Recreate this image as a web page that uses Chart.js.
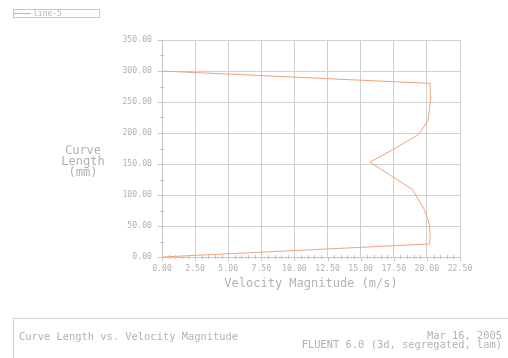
<!DOCTYPE html>
<html>
<head>
<meta charset="utf-8">
<script src="https://cdn.jsdelivr.net/npm/chart.js@4/dist/chart.umd.min.js"></script>
<style>
  html, body { margin: 0; padding: 0; background: #ffffff; }
  #wrap { width: 508px; height: 358px; position: relative; }
</style>
</head>
<body>
<div id="wrap"><canvas id="c" width="508" height="358"></canvas></div>
<script>
// Velocity profile along line-5
const seriesName = 'line-5';
const velocity = [0, 20.2, 20.25, 20.2, 19.8, 18.9, 15.7, 17.5, 19.4, 20.1, 20.3, 20.25, 0];
const curveLength = [0, 21, 36, 52, 77, 109, 153, 174, 198, 221, 258, 280, 300];

const xTicks = [0, 2.5, 5, 7.5, 10, 12.5, 15, 17.5, 20, 22.5];
const yTicks = [0, 50, 100, 150, 200, 250, 300, 350];

const xTitle = 'Velocity Magnitude (m/s)';
const yTitleLines = ['Curve', 'Length', '(mm)'];
const plotTitle = 'Curve Length vs. Velocity Magnitude';
const dateText = 'Mar 16, 2005';
const solverText = 'FLUENT 6.0 (3d, segregated, lam)';

const TEXT = '#b2b2b2';
const GRID = '#cfcfcf';
const LINE = '#f0a478';
const MONO = '"DejaVu Sans Mono", "Liberation Mono", monospace';

const points = velocity.map((v, i) => ({ x: v, y: curveLength[i] }));

// Decorations: legend box, axis titles, minor ticks and the caption box
const decor = {
  id: 'decor',
  afterDraw(chart) {
    const ctx = chart.ctx;
    const xs = chart.scales.x, ys = chart.scales.y;
    const area = chart.chartArea;
    ctx.save();

    // minor ticks on the x axis (every 0.5)
    ctx.strokeStyle = '#c4c4c4';
    ctx.lineWidth = 1;
    ctx.beginPath();
    for (let i = 0; i < xTicks.length - 1; i++) {
      for (let k = 1; k < 5; k++) {
        const v = xTicks[i] + (xTicks[i + 1] - xTicks[i]) * k / 5;
        const px = Math.round(xs.getPixelForValue(v)) + 0.5;
        ctx.moveTo(px, area.bottom - 2);
        ctx.lineTo(px, area.bottom + 2);
      }
    }
    for (const t of xTicks) {
      const px = Math.round(xs.getPixelForValue(t)) + 0.5;
      ctx.moveTo(px, area.bottom);
      ctx.lineTo(px, area.bottom + 4);
    }
    // minor ticks on the y axis (every 25)
    for (let i = 0; i < yTicks.length - 1; i++) {
      const v = (yTicks[i] + yTicks[i + 1]) / 2;
      const py = Math.round(ys.getPixelForValue(v)) + 0.5;
      ctx.moveTo(area.left - 2, py);
      ctx.lineTo(area.left + 2, py);
    }
    for (const t of yTicks) {
      const py = Math.round(ys.getPixelForValue(t)) + 0.5;
      ctx.moveTo(area.left - 4, py);
      ctx.lineTo(area.left, py);
    }
    ctx.stroke();

    // legend
    ctx.strokeStyle = '#c8c8c8';
    ctx.strokeRect(13.5, 9.5, 86, 8);
    ctx.strokeStyle = LINE;
    ctx.beginPath();
    ctx.moveTo(14, 13.5);
    ctx.lineTo(31, 13.5);
    ctx.stroke();
    ctx.fillStyle = TEXT;
    ctx.font = '8px ' + MONO;
    ctx.textBaseline = 'middle';
    ctx.textAlign = 'left';
    ctx.fillText(seriesName, 33, 14);

    // axis titles
    ctx.font = '12px ' + MONO;
    ctx.textAlign = 'center';
    ctx.fillText(xTitle, (area.left + area.right) / 2, 284);
    yTitleLines.forEach((s, i) => ctx.fillText(s, 83, 151 + i * 11));

    // caption box
    ctx.strokeStyle = '#d0d0d0';
    ctx.beginPath();
    ctx.moveTo(13.5, 358);
    ctx.lineTo(13.5, 318.5);
    ctx.lineTo(508, 318.5);
    ctx.stroke();
    ctx.font = '10.4px ' + MONO;
    ctx.textAlign = 'left';
    ctx.fillText(plotTitle, 19, 337);
    ctx.textAlign = 'right';
    ctx.fillText(dateText, 502, 336);
    ctx.fillText(solverText, 502, 345);

    ctx.restore();
  }
};

new Chart(document.getElementById('c'), {
  type: 'scatter',
  data: {
    datasets: [{
      label: seriesName,
      data: points,
      showLine: true,
      borderColor: LINE,
      borderWidth: 1,
      pointRadius: 0,
      fill: false,
      tension: 0
    }]
  },
  options: {
    responsive: false,
    animation: false,
    events: [],
    layout: { padding: { left: 0, right: 48, top: 40, bottom: 0 } },
    plugins: { legend: { display: false }, tooltip: { enabled: false } },
    scales: {
      x: {
        type: 'linear',
        min: 0, max: 22.5,
        afterBuildTicks: s => { s.ticks = xTicks.map(v => ({ value: v })); },
        afterFit: s => { s.height = 101; },
        grid: { color: GRID, drawTicks: false },
        border: { color: '#c4c4c4' },
        ticks: {
          padding: 7,
          color: TEXT,
          font: { family: MONO, size: 8.2 },
          maxRotation: 0,
          callback: v => Number(v).toFixed(2)
        }
      },
      y: {
        type: 'linear',
        min: 0, max: 350,
        afterBuildTicks: s => { s.ticks = yTicks.map(v => ({ value: v })); },
        afterFit: s => { s.width = 162; },
        grid: { color: GRID, drawTicks: false },
        border: { color: '#c4c4c4' },
        ticks: {
          padding: 10,
          color: TEXT,
          font: { family: MONO, size: 8.2 },
          callback: v => Number(v).toFixed(2)
        }
      }
    }
  },
  plugins: [decor]
});
</script>
</body>
</html>
